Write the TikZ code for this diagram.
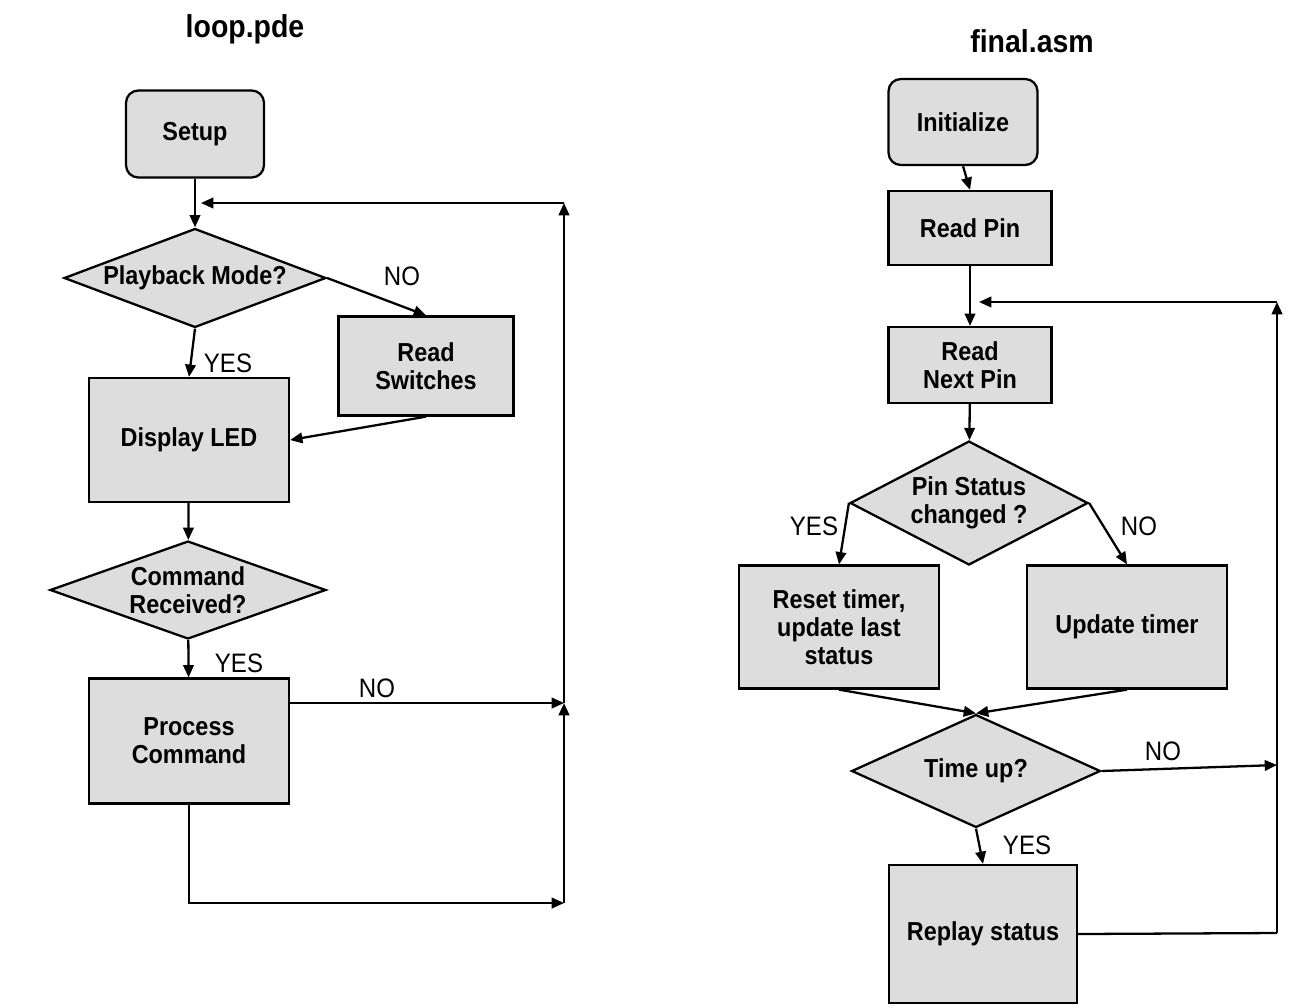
\documentclass[tikz,border=0pt]{standalone}
\usepackage{fontspec}
\setmainfont{Liberation Sans}[FakeStretch=0.9]
\usepackage{tikz}
\usetikzlibrary{
    arrows.meta,
    shapes.geometric,
    calc,
    positioning
}
\definecolor{boxgray}{HTML}{DDDDDD}
\tikzset{
    stepbox/.style={draw=black, fill=boxgray, line width=1.3pt, inner sep=2pt, align=center,
        font=\fontsize{14.8}{16}\selectfont\bfseries},
    startbox/.style={stepbox, rounded corners=7pt},
    askbox/.style={stepbox, diamond, inner sep=0pt},
    flow/.style={line width=1.3pt, -{Triangle[length=7pt,width=6pt]}},
    plain/.style={line width=1.3pt},
    answer/.style={font=\fontsize{15.2}{16}\selectfont},
    heading/.style={font=\fontsize{18}{20}\selectfont\bfseries}
}

\begin{document}
\begin{tikzpicture}[x=0.02cm, y=-0.02cm]
    \useasboundingbox (0, 0) rectangle (1293, 1005);

    % loop.pde
    \node[heading] (ttl1) at (245, 29) {loop.pde};
    \node[startbox, minimum width=2.76cm, minimum height=1.74cm] (setup) at (195, 134) {Setup};
    \node[askbox, aspect=2.65, minimum width=5.24cm, minimum height=1.98cm] (playback) at (195, 278) {Playback Mode?};
    \node[stepbox, minimum width=3.5cm, minimum height=1.98cm] (readsw) at (426, 366) {Read\\Switches};
    \node[stepbox, minimum width=4cm, minimum height=2.48cm] (display) at (189, 440) {Display LED};
    \node[askbox, aspect=2.8, minimum width=5.52cm, minimum height=1.96cm] (command) at (188, 590) {Command\\Received?};
    \node[stepbox, minimum width=4cm, minimum height=2.5cm] (process) at (189, 741) {Process\\Command};

    \coordinate (lin) at (201, 203);
    \coordinate (ltop) at (564, 203);
    \coordinate (lmid) at (564, 703);
    \coordinate (lbot) at (564, 903);

    \node[answer] (no1) at (402, 276) {NO};
    \node[answer] (yes1) at (228, 363) {YES};
    \node[answer] (yes2) at (239, 663) {YES};
    \node[answer] (no2) at (377, 688) {NO};

    \draw[flow] (setup) -- (playback);
    \draw[flow] (playback.east) -- (readsw.north);
    \draw[flow] (playback.south) -- (display.north);
    \draw[flow] (readsw.south) -- (display.east);
    \draw[flow] (display) -- (command);
    \draw[flow] (command) -- (process);
    \draw[flow] (process.east |- lmid) -- (lmid);
    \draw[flow] (process.south) |- (lbot);
    \draw[flow] (lbot) -- (lmid);
    \draw[flow] (lmid) -- (ltop);
    \draw[flow] (ltop) -- (lin);

    % final.asm
    \node[heading] (ttl2) at (1032, 41) {final.asm};
    \node[startbox, minimum width=2.98cm, minimum height=1.72cm] (init) at (963, 122) {Initialize};
    \node[stepbox, minimum width=3.26cm, minimum height=1.48cm] (readpin) at (970, 228) {Read Pin};
    \node[stepbox, minimum width=3.26cm, minimum height=1.52cm] (readnext) at (970, 365) {Read\\Next Pin};
    \node[askbox, aspect=1.92, minimum width=4.76cm, minimum height=2.48cm] (pinstat) at (969, 503) {Pin Status\\changed ?};
    \node[stepbox, minimum width=4cm, minimum height=2.46cm] (reset) at (839, 627) {Reset timer,\\update last\\status};
    \node[stepbox, minimum width=4cm, minimum height=2.46cm] (update) at (1127, 627) {Update timer};
    \node[askbox, aspect=2.2, minimum width=4.98cm, minimum height=2.26cm] (timeup) at (976, 771) {Time up?};
    \node[stepbox, minimum width=3.76cm, minimum height=2.76cm] (replay) at (983, 934) {Replay status};

    \coordinate (rin) at (979, 302);
    \coordinate (rtop) at (1277, 302);
    \coordinate (rno) at (1277, 765);
    \coordinate (rbot) at (1277, 933);

    \node[answer] (yes3) at (814, 526) {YES};
    \node[answer] (no3) at (1139, 526) {NO};
    \node[answer] (no4) at (1163, 751) {NO};
    \node[answer] (yes4) at (1027, 845) {YES};

    \draw[flow] (init.south) -- (readpin.north);
    \draw[flow] (readpin) -- (readnext);
    \draw[flow] (readnext) -- (pinstat);
    \draw[flow] (pinstat.west) -- (reset.north);
    \draw[flow] (pinstat.east) -- (update.north);
    \draw[flow] (reset.south) -- (timeup.north);
    \draw[flow] (update.south) -- (timeup.north);
    \draw[flow] (timeup.south) -- (replay.north);
    \draw[flow] (timeup.east) -- (rno);
    \draw[plain] (replay.east) -- (rbot);
    \draw[flow] (rbot) -- (rtop);
    \draw[flow] (rtop) -- (rin);
\end{tikzpicture}
\end{document}
